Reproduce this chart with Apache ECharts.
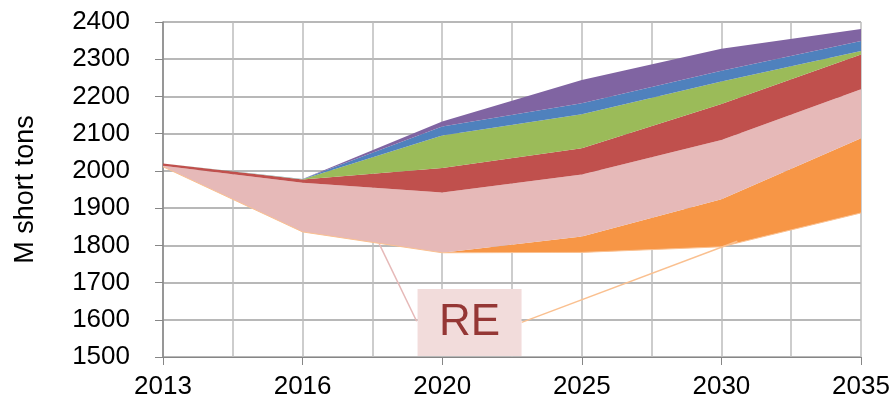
<!DOCTYPE html>
<html>
<head>
<meta charset="utf-8">
<script src="https://cdn.jsdelivr.net/npm/echarts@6/dist/echarts.min.js"></script>
<style>
  html, body { margin: 0; padding: 0; background: #fff; }
  #main { width: 894px; height: 400px; }
</style>
</head>
<body>
<div id="main"></div>
<script>
var years = ['2013', '2016', '2020', '2025', '2030', '2035'];
var yTicks = [1500, 2400, 100];

// upper edge of each band (M short tons)
var baseLow   = [2011, 1836, 1780, 1781, 1796, 1887];
var orangeTop = [2011, 1836, 1780, 1824, 1924, 2088];
var pinkTop   = [2014, 1968, 1942, 1990, 2083, 2219];
var redTop    = [2020, 1977, 2008, 2061, 2180, 2313];
var greenTop  = [2020, 1977.5, 2095, 2152, 2240, 2322];
var blueTop   = [2020, 1978, 2119, 2182, 2269, 2349];
var purpleTop = [2020, 1978.5, 2133, 2244, 2328, 2381];

// RE callout, in half-step units of the overlay axis (0..10)
var reBox = [4.392, 1593];
var rePinkLeader = [[3.098, 1804], [3.634, 1596]];
var reOrangeLeader = [[5.138, 1593], [8.228, 1811]];

var font = "'Liberation Sans', Arial, sans-serif";

function band(top, bottom) {
  return top.map(function (v, i) { return +(v - bottom[i]).toFixed(2); });
}

var layers = [
  { name: 'orange', top: orangeTop, below: baseLow,   color: '#f79646' },
  { name: 'RE',     top: pinkTop,   below: orangeTop, color: '#e6b9b8' },
  { name: 'red',    top: redTop,    below: pinkTop,   color: '#c0504d' },
  { name: 'green',  top: greenTop,  below: redTop,    color: '#9bbb59' },
  { name: 'blue',   top: blueTop,   below: greenTop,  color: '#4f81bd' },
  { name: 'purple', top: purpleTop, below: blueTop,   color: '#8064a2' }
];

var series = [{
  name: 'base',
  type: 'line',
  stack: 'total',
  data: baseLow,
  showSymbol: false,
  lineStyle: { color: '#fac090', width: 1 },
  silent: true
}];

layers.forEach(function (l) {
  series.push({
    name: l.name,
    type: 'line',
    stack: 'total',
    data: band(l.top, l.below),
    showSymbol: false,
    lineStyle: { width: 0 },
    areaStyle: { color: l.color, opacity: 1 },
    silent: true
  });
});

// callout box and leader lines
series.push({
  name: 'label',
  type: 'scatter',
  xAxisIndex: 1,
  data: [],
  markLine: {
    silent: true,
    symbol: 'none',
    label: { show: false },
    data: [
      [{ coord: rePinkLeader[0], lineStyle: { color: '#e6b9b8', width: 1.5, type: 'solid' } },
       { coord: rePinkLeader[1] }],
      [{ coord: reOrangeLeader[0], lineStyle: { color: '#fac090', width: 1.5, type: 'solid' } },
       { coord: reOrangeLeader[1] }]
    ]
  },
  markPoint: {
    silent: true,
    symbol: 'rect',
    symbolSize: [104, 67],
    itemStyle: { color: '#f2dcdb' },
    label: {
      show: true,
      position: 'inside',
      formatter: 'RE',
      color: '#953735',
      fontSize: 44,
      fontFamily: font
    },
    data: [{ coord: reBox }]
  }
});

var chart = echarts.init(document.getElementById('main'));
chart.setOption({
  animation: false,
  grid: { left: 163, right: 33, top: 22, bottom: 42 },
  xAxis: [{
    type: 'category',
    data: years,
    boundaryGap: false,
    axisLine: { show: true, lineStyle: { color: '#868686', width: 1 } },
    axisTick: { show: true, length: 8, lineStyle: { color: '#868686' } },
    axisLabel: { margin: 17, color: '#000', fontSize: 26, fontFamily: font },
    splitLine: { show: false },
    z: 3
  }, {
    // half-step overlay for the vertical gridlines
    type: 'value',
    min: 0,
    max: 10,
    interval: 1,
    show: true,
    axisLine: { show: false },
    axisTick: { show: false },
    axisLabel: { show: false },
    splitLine: { show: true, lineStyle: { color: '#bdbdbd', width: 1.5 } }
  }],
  yAxis: {
    type: 'value',
    min: yTicks[0],
    max: yTicks[1],
    interval: yTicks[2],
    name: 'M short tons',
    nameLocation: 'middle',
    nameGap: 124,
    nameTextStyle: { color: '#000', fontSize: 27, fontFamily: font },
    axisLine: { show: true, lineStyle: { color: '#868686', width: 1.5 } },
    axisTick: { show: true, length: 8, lineStyle: { color: '#868686' } },
    axisLabel: {
      margin: 33, color: '#000', fontSize: 26, fontFamily: font,
      formatter: function (v) { return String(v); }
    },
    splitLine: { show: true, lineStyle: { color: '#a0a0a0', width: 1.5 } }
  },
  series: series
});
</script>
</body>
</html>
